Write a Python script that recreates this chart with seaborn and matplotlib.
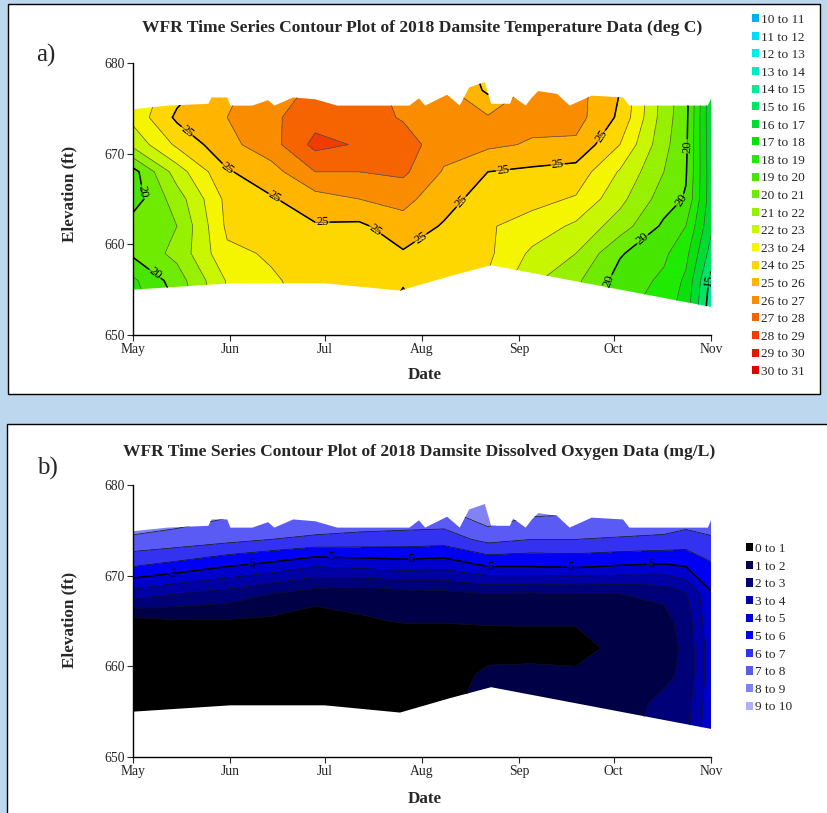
import numpy as np
import pandas as pd
import seaborn as sns
import matplotlib.pyplot as plt
import matplotlib.dates as mdates
from matplotlib.path import Path
from matplotlib.patches import PathPatch, Patch, Rectangle

# profile sampling dates and grid elevations (ft)
sample_dates = ['2018-05-01', '2018-05-15', '2018-05-31', '2018-06-14', '2018-06-28',
                '2018-07-12', '2018-07-26', '2018-08-08', '2018-08-22', '2018-09-05',
                '2018-09-19', '2018-10-03', '2018-10-17', '2018-10-24', '2018-11-01']
elevations = [653, 656, 659, 662, 665, 668, 671, 674, 677, 680]

# water temperature (deg C), one row per date, 653 ft -> 680 ft
temperature = [
    [18.5, 18.8, 20.2, 20.5, 19.5, 19.6, 22.3, 23.3, 23.2, 23.2],
    [20.0, 20.5, 21.3, 21.0, 21.5, 22.5, 24.2, 25.2, 24.6, 24.6],
    [23.0, 23.1, 23.8, 24.2, 24.3, 24.9, 25.7, 26.0, 25.8, 25.8],
    [23.8, 23.9, 24.1, 24.4, 24.9, 25.6, 26.6, 26.8, 26.5, 26.5],
    [24.2, 24.3, 24.5, 24.9, 25.6, 27.0, 28.3, 27.6, 27.2, 27.2],
    [24.3, 24.4, 24.5, 24.8, 26.0, 27.0, 27.9, 27.5, 27.3, 27.3],
    [25.3, 24.9, 24.9, 25.6, 26.3, 27.2, 27.5, 26.9, 26.8, 26.8],
    [24.1, 24.2, 24.5, 24.9, 25.4, 25.9, 26.4, 26.5, 26.3, 26.3],
    [23.5, 23.9, 24.2, 24.1, 24.5, 25.0, 26.2, 26.1, 24.8, 24.3],
    [22.0, 22.2, 22.8, 23.6, 24.3, 24.8, 25.9, 26.3, 26.3, 26.3],
    [21.0, 21.2, 22.0, 22.8, 23.9, 24.6, 25.8, 26.4, 26.4, 26.4],
    [19.3, 19.6, 20.1, 21.5, 22.3, 22.9, 24.0, 24.8, 25.0, 25.0],
    [18.5, 18.8, 19.2, 19.8, 20.5, 21.0, 21.3, 21.5, 21.6, 21.6],
    [17.5, 17.8, 18.3, 19.0, 19.9, 20.1, 20.2, 20.3, 20.4, 20.4],
    [14.4, 14.7, 15.6, 16.2, 16.4, 16.4, 16.3, 16.2, 16.3, 16.3],
]

# dissolved oxygen (mg/L), same layout
oxygen = [
    [0.3, 0.3, 0.3, 0.3, 0.6, 3.6, 6.0, 7.8, 9.0, 9.4],
    [0.3, 0.3, 0.3, 0.3, 0.9, 3.0, 5.6, 7.6, 8.6, 8.9],
    [0.3, 0.3, 0.3, 0.3, 0.9, 2.6, 5.0, 7.3, 8.2, 8.5],
    [0.3, 0.3, 0.3, 0.3, 0.8, 2.0, 4.6, 7.0, 8.0, 8.3],
    [0.3, 0.3, 0.3, 0.3, 0.4, 1.5, 4.0, 6.8, 8.0, 8.3],
    [0.3, 0.3, 0.3, 0.3, 0.9, 1.3, 4.2, 6.7, 7.8, 8.2],
    [0.3, 0.3, 0.3, 0.4, 1.05, 1.6, 4.4, 6.6, 7.8, 8.2],
    [0.3, 0.3, 0.3, 0.4, 1.05, 1.7, 4.3, 6.5, 7.8, 8.3],
    [1.9, 1.9, 1.3, 0.5, 1.1, 2.0, 5.0, 7.3, 8.8, 9.8],
    [1.6, 1.5, 1.3, 0.6, 1.1, 1.9, 5.0, 7.0, 8.2, 8.6],
    [1.6, 1.5, 1.2, 0.6, 1.1, 2.0, 5.1, 7.0, 8.1, 8.4],
    [1.7, 1.6, 1.4, 1.3, 1.4, 2.0, 4.9, 6.9, 8.0, 8.3],
    [2.4, 2.2, 1.8, 1.6, 1.7, 2.2, 4.8, 6.8, 7.9, 8.2],
    [2.7, 2.5, 2.2, 2.2, 2.4, 2.9, 5.0, 6.6, 7.7, 8.0],
    [4.8, 4.7, 4.6, 4.6, 4.8, 4.9, 5.8, 6.9, 7.6, 7.8],
]

# water surface and reservoir bottom bounding the sampled column
surface_dates = ['2018-05-01', '2018-05-12', '2018-05-25', '2018-05-26', '2018-05-31',
                 '2018-06-01', '2018-06-08', '2018-06-13', '2018-06-15', '2018-06-21',
                 '2018-06-28', '2018-07-05', '2018-07-28', '2018-07-31', '2018-08-02',
                 '2018-08-09', '2018-08-13', '2018-08-16', '2018-08-21', '2018-08-23',
                 '2018-08-29', '2018-08-30', '2018-09-03', '2018-09-05', '2018-09-07',
                 '2018-09-13', '2018-09-17', '2018-09-24', '2018-10-04', '2018-10-06',
                 '2018-10-31', '2018-11-01']
surface_elev = [674.9, 675.3, 675.5, 676.2, 676.2, 675.3, 675.3, 675.9, 675.3, 676.2,
                676.0, 675.3, 675.3, 676.1, 675.3, 676.5, 675.3, 677.3, 677.9, 675.5,
                675.5, 676.3, 675.3, 676.2, 676.9, 676.6, 675.3, 676.4, 676.2, 675.3,
                675.3, 676.1]
bottom_dates = ['2018-05-01', '2018-06-01', '2018-07-01', '2018-07-25', '2018-08-10',
                '2018-08-23', '2018-11-01']
bottom_elev = [655.0, 655.7, 655.7, 654.9, 656.5, 657.7, 653.1]

temp_levels = list(range(10, 32))
oxygen_levels = list(range(0, 11))

temp_colors = ['#00b0f0', '#00dcfa', '#00f0e6', '#00ebbe', '#00eb96', '#00e664',
               '#00dc32', '#0ae10a', '#1eeb00', '#46e600', '#6eeb00', '#96f000',
               '#c8f500', '#f5f500', '#ffd700', '#ffb400', '#fa8c00', '#f56400',
               '#f03c00', '#e61400', '#e10000']
oxygen_colors = ['#000000', '#000046', '#000078', '#0000a5', '#0000cd', '#0000f5',
                 '#3232f0', '#5a5af5', '#8282f5', '#afaffa']

BACKGROUND = '#bdd7ee'


def to_num(dates):
    return mdates.date2num(pd.to_datetime(dates))


def domain(ax):
    top = np.column_stack([to_num(surface_dates), surface_elev])
    bottom = np.column_stack([to_num(bottom_dates), bottom_elev])[::-1]
    verts = np.vstack([top, bottom, top[:1]])
    return PathPatch(Path(verts, closed=True), transform=ax.transData,
                     facecolor='none', edgecolor='none')


def label_spots(ax, cs, clip, step):
    # walk along the drawn contour lines and pick a spot every `step` pixels
    area = clip.get_path().transformed(ax.transData)
    spots = []
    for p in cs.get_paths():
        for verts in p.to_polygons(closed_only=False):
            pix = ax.transData.transform(verts)
            seg = np.hypot(*np.diff(pix, axis=0).T)
            dist = np.concatenate([[0], np.cumsum(seg)])
            for d in np.arange(step / 2, dist[-1], step):
                px = np.interp(d, dist, pix[:, 0])
                py = np.interp(d, dist, pix[:, 1])
                if all(area.contains_point((px, py + dy)) for dy in (-6, 0, 6)):
                    spots.append(ax.transData.inverted().transform((px, py)))
    return spots


def draw(ax, values, levels, colors, thin, bold_levels, step):
    ax.set_xlim(to_num(['2018-05-01', '2018-11-01']))
    ax.set_ylim(650, 680)

    X, Y = np.meshgrid(to_num(sample_dates), elevations)
    Z = np.array(values).T
    clip = domain(ax)

    filled = ax.contourf(X, Y, Z, levels=levels, colors=colors)
    filled.set_clip_path(clip)
    lines = ax.contour(X, Y, Z, levels=levels, colors=thin, linewidths=0.5)
    lines.set_clip_path(clip)
    bold = ax.contour(X, Y, Z, levels=bold_levels, colors='black', linewidths=1.1)
    bold.set_clip_path(clip)
    spots = label_spots(ax, bold, clip, step)
    if spots:
        ax.clabel(bold, fmt='%d', fontsize=9, inline_spacing=1, manual=spots)

    ax.set_yticks([650, 660, 670, 680])
    ax.xaxis.set_major_locator(mdates.MonthLocator())
    ax.xaxis.set_major_formatter(mdates.DateFormatter('%b'))
    ax.tick_params(direction='out', length=4, width=0.8, labelsize=9.8, pad=2)
    sns.despine(ax=ax)
    for s in ('left', 'bottom'):
        ax.spines[s].set_color('black')
        ax.spines[s].set_linewidth(1.0)

    ax.set_xlabel('Date', fontsize=12.3, fontweight='bold')
    ax.set_ylabel('Elevation (ft)', fontsize=12.3, fontweight='bold')


def legend(fig, levels, colors, x, y):
    handles = [Patch(facecolor=c, edgecolor='none') for c in colors]
    labels = [f'{lo} to {lo + 1}' for lo in levels[:-1]]
    fig.legend(handles, labels, loc='upper left', bbox_to_anchor=(x, y),
               frameon=False, fontsize=9.6, handlelength=0.55, handleheight=0.55,
               handletextpad=0.15, labelspacing=0.42, borderpad=0,
               borderaxespad=0)


sns.set_style('ticks')
plt.rcParams['font.family'] = ['Liberation Serif', 'DejaVu Serif']

fig = plt.figure(figsize=(8.27, 8.13), dpi=100, facecolor=BACKGROUND)
W, H = 827, 813

# white panels with black frames
for (x0, y0, x1, y1) in [(8, 4, 820, 394), (7, 424, 840, 830)]:
    fig.add_artist(Rectangle((x0 / W, 1 - y1 / H), (x1 - x0) / W, (y1 - y0) / H,
                             transform=fig.transFigure, facecolor='white',
                             edgecolor='black', linewidth=1.0, zorder=0))

ax_a = fig.add_axes([133 / W, 1 - 335 / H, 578 / W, 272 / H])
draw(ax_a, temperature, temp_levels, temp_colors, '#505050', [15, 20, 25], 55)
ax_a.yaxis.set_label_coords(-0.097, 0.518)
ax_a.xaxis.set_label_coords(0.505, -0.118)

ax_b = fig.add_axes([133 / W, 1 - 757 / H, 578 / W, 272 / H])
draw(ax_b, oxygen, oxygen_levels, oxygen_colors, '#101010', [5], 80)
ax_b.yaxis.set_label_coords(-0.097, 0.504)
ax_b.xaxis.set_label_coords(0.505, -0.126)

fig.text(422 / W, 1 - 28 / H,
         'WFR Time Series Contour Plot of 2018 Damsite Temperature Data (deg C)',
         ha='center', va='center', fontsize=12.6, fontweight='bold')
fig.text(419 / W, 1 - 452 / H,
         'WFR Time Series Contour Plot of 2018 Damsite Dissolved Oxygen Data (mg/L)',
         ha='center', va='center', fontsize=12.6, fontweight='bold')
fig.text(46 / W, 1 - 55 / H, 'a)', ha='center', va='center', fontsize=18)
fig.text(47 / W, 1 - 468 / H, 'b)', ha='center', va='center', fontsize=18)

legend(fig, temp_levels, temp_colors, 752 / W, 1 - 14 / H)
legend(fig, oxygen_levels, oxygen_colors, 746 / W, 1 - 543 / H)

fig.savefig('out.png', dpi=100, facecolor=BACKGROUND)
